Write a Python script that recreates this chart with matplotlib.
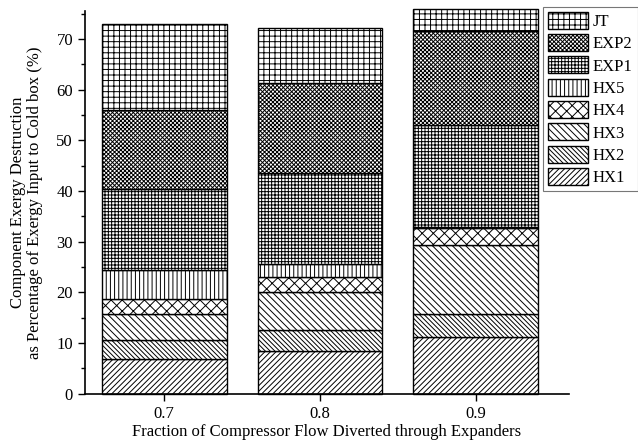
import numpy as np
import matplotlib.pyplot as plt
import matplotlib as mpl

#----フォント・線幅設定-------------------------------------------------
plt.rcParams['font.family']=['Liberation Serif','DejaVu Serif']
plt.rcParams['font.size']=12
plt.rcParams['hatch.linewidth']=0.7
plt.rcParams['hatch.color']='black'

#----データ-------------------------------------------------------------
FRAC=[0.7,0.8,0.9]
NAMES=['HX1','HX2','HX3','HX4','HX5','EXP1','EXP2','JT']
HX1=[6.8,8.5,11.2]
HX2=[3.8,4.1,4.5]
HX3=[5.1,7.5,13.7]
HX4=[3.0,2.9,3.3]
HX5=[5.8,2.6,0.3]
EXP1=[15.9,18.0,20.0]
EXP2=[15.6,17.7,18.6]
JT=[17.0,10.8,4.3]
SERIES=[HX1,HX2,HX3,HX4,HX5,EXP1,EXP2,JT]
#斜線系は1文字あたりの密度が半分になるので多めに重ねる
HATCH=['/'*6,'\\'*7,'\\'*5,'xxx','||||','+'*5,'x'*8,'+++']

#----描画---------------------------------------------------------------
fig=plt.figure(figsize=(6.38,4.45),dpi=100)
ax=fig.add_axes([0.133,0.115,0.759,0.86])

BASE=np.zeros(len(FRAC))
HANDLES=[]
for name,val,h in zip(NAMES,SERIES,HATCH):
  b=ax.bar(FRAC,val,width=0.08,bottom=BASE,color='white',
           edgecolor='black',linewidth=1.0,hatch=h,label=name,clip_on=False)
  BASE=BASE+np.array(val)
  HANDLES.append(b)

ax.set_xlim(0.649,0.96)
ax.set_ylim(0,75.5)
ax.set_xticks(FRAC)
ax.set_xticklabels(['0.7','0.8','0.9'])
ax.set_yticks(np.arange(0,71,10))
ax.set_yticks(np.arange(0,76,5),minor=True)
ax.spines['top'].set_visible(False)
ax.spines['right'].set_visible(False)
ax.spines['left'].set_linewidth(1.2)
ax.spines['bottom'].set_linewidth(1.2)
ax.tick_params(axis='both',direction='out',length=5,width=1.0)
ax.tick_params(axis='y',which='minor',direction='out',length=3,width=1.0)
ax.tick_params(axis='x',which='minor',bottom=False)

ax.set_xlabel('Fraction of Compressor Flow Diverted through Expanders',labelpad=2)
ax.set_ylabel('Component Exergy Destruction\nas Percentage of Exergy Input to Cold box (%)',
              labelpad=10,linespacing=1.05)

leg=fig.legend(HANDLES[::-1],NAMES[::-1],loc='upper left',
               bbox_to_anchor=(0.851,0.985),fancybox=False,frameon=True,
               edgecolor='#555555',handlelength=2.4,handleheight=1.2,
               handletextpad=0.3,labelspacing=0.25,borderpad=0.3,
               borderaxespad=0.0)
leg.get_frame().set_linewidth(0.8)

plt.savefig('out.png',dpi=100)
plt.close()
